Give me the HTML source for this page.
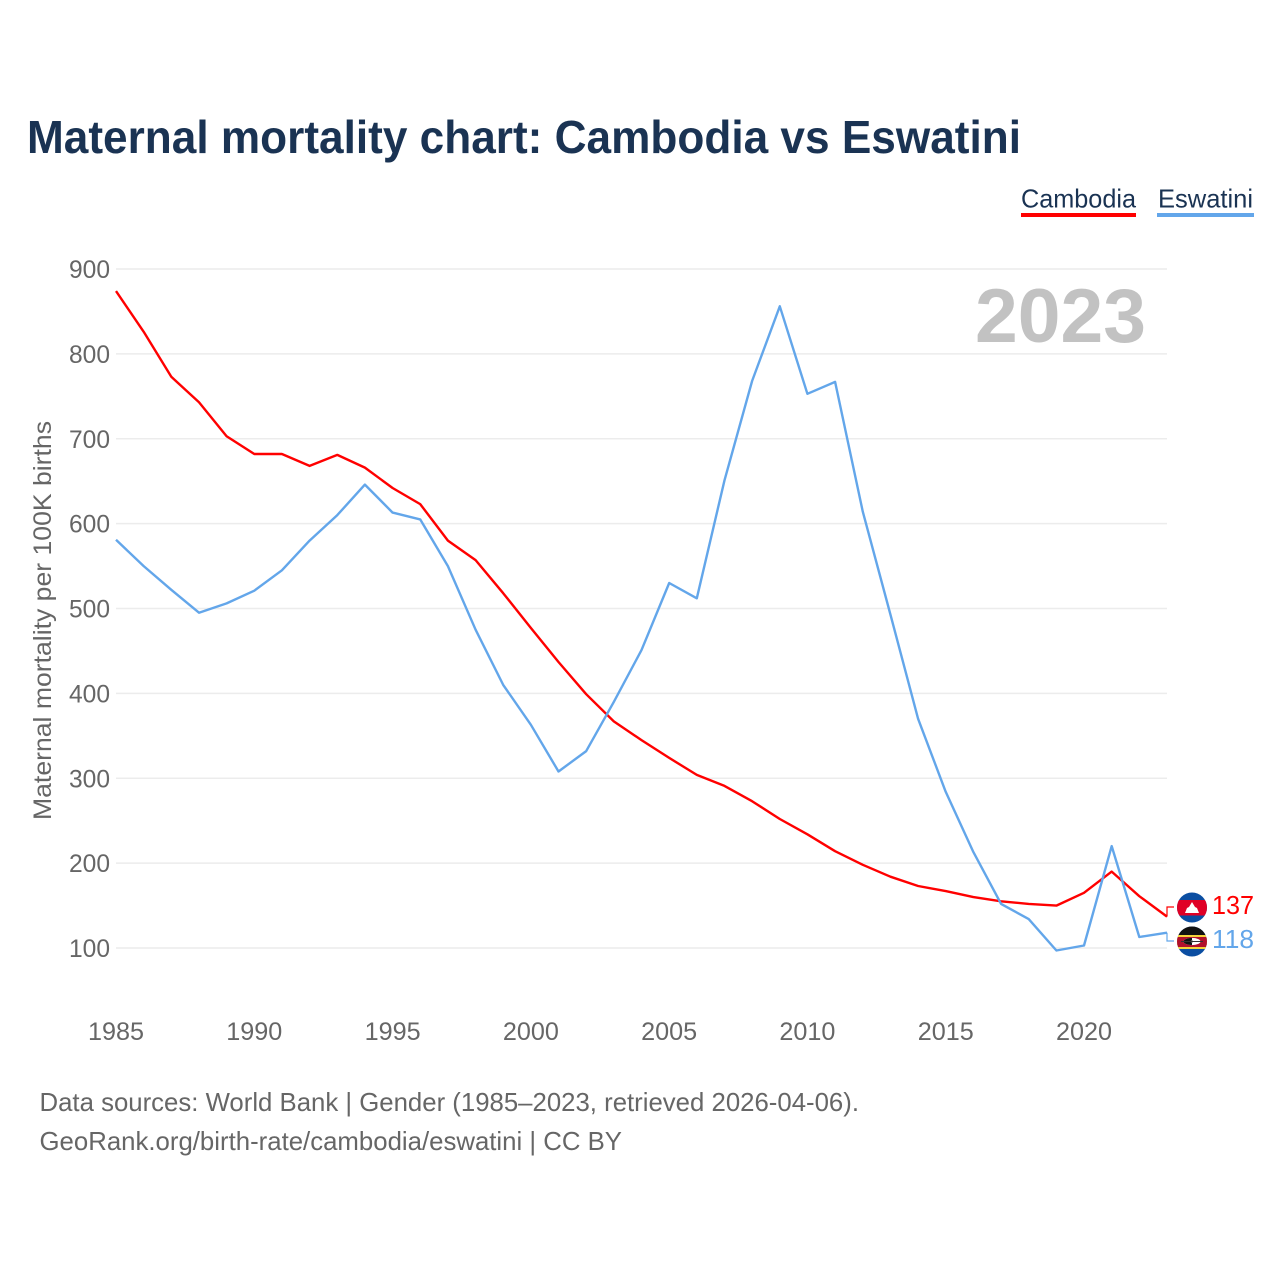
<!DOCTYPE html>
<html>
<head>
<meta charset="utf-8">
<style>
html,body{margin:0;padding:0;background:#fff}
svg{display:block}
text{font-family:"Liberation Sans",sans-serif}
</style>
</head>
<body>
<svg id="chart" width="1280" height="1280" viewBox="0 0 1280 1280" xmlns="http://www.w3.org/2000/svg">
<rect width="1280" height="1280" fill="#fff"/>
<text x="27" y="153" font-size="46" font-weight="700" fill="#1a3353" textLength="994" lengthAdjust="spacingAndGlyphs">Maternal mortality chart: Cambodia vs Eswatini</text>
<g id="grid"></g>
<g id="yticks"></g>
<g id="xticks"></g>
<text x="975" y="342" font-size="76" font-weight="700" fill="#c2c2c2" textLength="171" lengthAdjust="spacingAndGlyphs">2023</text>
<text transform="translate(51,820) rotate(-90)" font-size="25" fill="#666" textLength="399" lengthAdjust="spacingAndGlyphs">Maternal mortality per 100K births</text>
<path id="line-cambodia" fill="none" stroke="#ff0000" stroke-width="2.4" stroke-linejoin="round"/>
<path id="line-eswatini" fill="none" stroke="#63a6ea" stroke-width="2.4" stroke-linejoin="round"/>
<path id="leader-cambodia" fill="none" stroke="#ff0000" stroke-width="1.2"/>
<path id="leader-eswatini" fill="none" stroke="#63a6ea" stroke-width="1.2"/>
<defs>
<clipPath id="clip-kh"><circle cx="1192" cy="907.5" r="15"/></clipPath>
<clipPath id="clip-sz"><circle cx="1192" cy="941.5" r="15"/></clipPath>
</defs>
<g clip-path="url(#clip-kh)">
<rect x="1177" y="892" width="30" height="31" fill="#0b4ea2"/>
<rect x="1177" y="900" width="30" height="15.5" fill="#e00025"/>
<path d="M1185 913L1187 908L1189 907L1192 902L1195 907L1197 908L1199 913Z" fill="#fff"/>
</g>
<g clip-path="url(#clip-sz)">
<rect x="1177" y="926" width="30" height="31" fill="#0b4ea2"/>
<rect x="1177" y="926" width="30" height="9" fill="#111"/>
<rect x="1177" y="935" width="30" height="14" fill="#f5d33a"/>
<rect x="1177" y="937" width="30" height="10" fill="#b1102b"/>
<ellipse cx="1192" cy="941.5" rx="8.5" ry="3.6" fill="#fff"/>
<path d="M1192 937.9A8.5 3.6 0 0 0 1192 945.1Z" fill="#111"/>
<circle cx="1192" cy="941.5" r="1.2" fill="#888"/>
<rect x="1181" y="941" width="22" height="1" fill="#333"/>
</g>
<text x="1212" y="914" font-size="26" fill="#ff0000" textLength="42" lengthAdjust="spacingAndGlyphs">137</text>
<text x="1212" y="948" font-size="26" fill="#63a6ea" textLength="42" lengthAdjust="spacingAndGlyphs">118</text>
<g>
<text x="1021" y="207.5" font-size="26" fill="#1a3353" textLength="115" lengthAdjust="spacingAndGlyphs">Cambodia</text>
<rect x="1021" y="213" width="115" height="4" fill="#ff0000"/>
</g>
<g>
<text x="1158" y="207.5" font-size="26" fill="#1a3353" textLength="95" lengthAdjust="spacingAndGlyphs">Eswatini</text>
<rect x="1157" y="213" width="97" height="4" fill="#63a6ea"/>
</g>
<text x="39.5" y="1111" font-size="26" fill="#666" textLength="819.5" lengthAdjust="spacingAndGlyphs">Data sources: World Bank | Gender (1985–2023, retrieved 2026-04-06).</text>
<text x="39.5" y="1150" font-size="26" fill="#666" textLength="582.5" lengthAdjust="spacingAndGlyphs">GeoRank.org/birth-rate/cambodia/eswatini | CC BY</text>
</svg>
<script>
const years = [1985,1986,1987,1988,1989,1990,1991,1992,1993,1994,1995,1996,1997,1998,1999,2000,2001,2002,2003,2004,2005,2006,2007,2008,2009,2010,2011,2012,2013,2014,2015,2016,2017,2018,2019,2020,2021,2022,2023];
const cambodia = [874,826,773,743,703,682,682,668,681,666,642,623,580,557,518,477,437,399,367,345,324,304,291,273,252,234,214,198,184,173,167,160,155,152,150,165,190,161,137];
const eswatini = [581,550,522,495,506,521,545,580,610,646,613,605,550,475,410,363,308,332,390,451,530,512,651,768,856,753,767,614,493,370,284,213,152,134,97,103,220,113,118];
const yTickValues = [100,200,300,400,500,600,700,800,900];
const xTickValues = [1985,1990,1995,2000,2005,2010,2015,2020];

const NS = 'http://www.w3.org/2000/svg';
function xScale(year){ return 116 + (year - 1985) * (1167 - 116) / (2023 - 1985); }
function yScale(value){ return 948 - (value - 100) * (948 - 269) / 800; }
function linePath(series){
  return series.map(function(v, i){
    return (i ? 'L' : 'M') + xScale(years[i]).toFixed(1) + ' ' + yScale(v).toFixed(1);
  }).join('');
}
document.getElementById('line-cambodia').setAttribute('d', linePath(cambodia));
document.getElementById('line-eswatini').setAttribute('d', linePath(eswatini));

const lastX = xScale(years[years.length - 1]);
document.getElementById('leader-cambodia').setAttribute('d',
  'M' + lastX + ' ' + yScale(cambodia[cambodia.length - 1]) + 'V907H1174');
document.getElementById('leader-eswatini').setAttribute('d',
  'M' + lastX + ' ' + yScale(eswatini[eswatini.length - 1]) + 'V941H1174');

const gridGroup = document.getElementById('grid');
const yGroup = document.getElementById('yticks');
const xGroup = document.getElementById('xticks');
yTickValues.forEach(function(v){
  const line = document.createElementNS(NS, 'line');
  
  
  line.setAttribute('x1', 116);
  line.setAttribute('x2', 1167);
  line.setAttribute('y1', yScale(v));
  line.setAttribute('y2', yScale(v));
  line.setAttribute('stroke', '#ececec');
  line.setAttribute('stroke-width', 1.5);
  gridGroup.appendChild(line);
  const label = document.createElementNS(NS, 'text');
  
  
  label.setAttribute('x', 69);
  label.setAttribute('y', yScale(v) + 9);
  label.setAttribute('font-size', 25);
  label.setAttribute('fill', '#666');
  label.setAttribute('textLength', 41);
  label.setAttribute('lengthAdjust', 'spacingAndGlyphs');
  label.textContent = v;
  yGroup.appendChild(label);
});
xTickValues.forEach(function(y){
  const label = document.createElementNS(NS, 'text');
  
  
  label.setAttribute('x', xScale(y) - 28);
  label.setAttribute('y', 1040);
  label.setAttribute('font-size', 25);
  label.setAttribute('fill', '#666');
  label.setAttribute('textLength', 56);
  label.setAttribute('lengthAdjust', 'spacingAndGlyphs');
  label.textContent = y;
  xGroup.appendChild(label);
});
</script>
</body>
</html>
